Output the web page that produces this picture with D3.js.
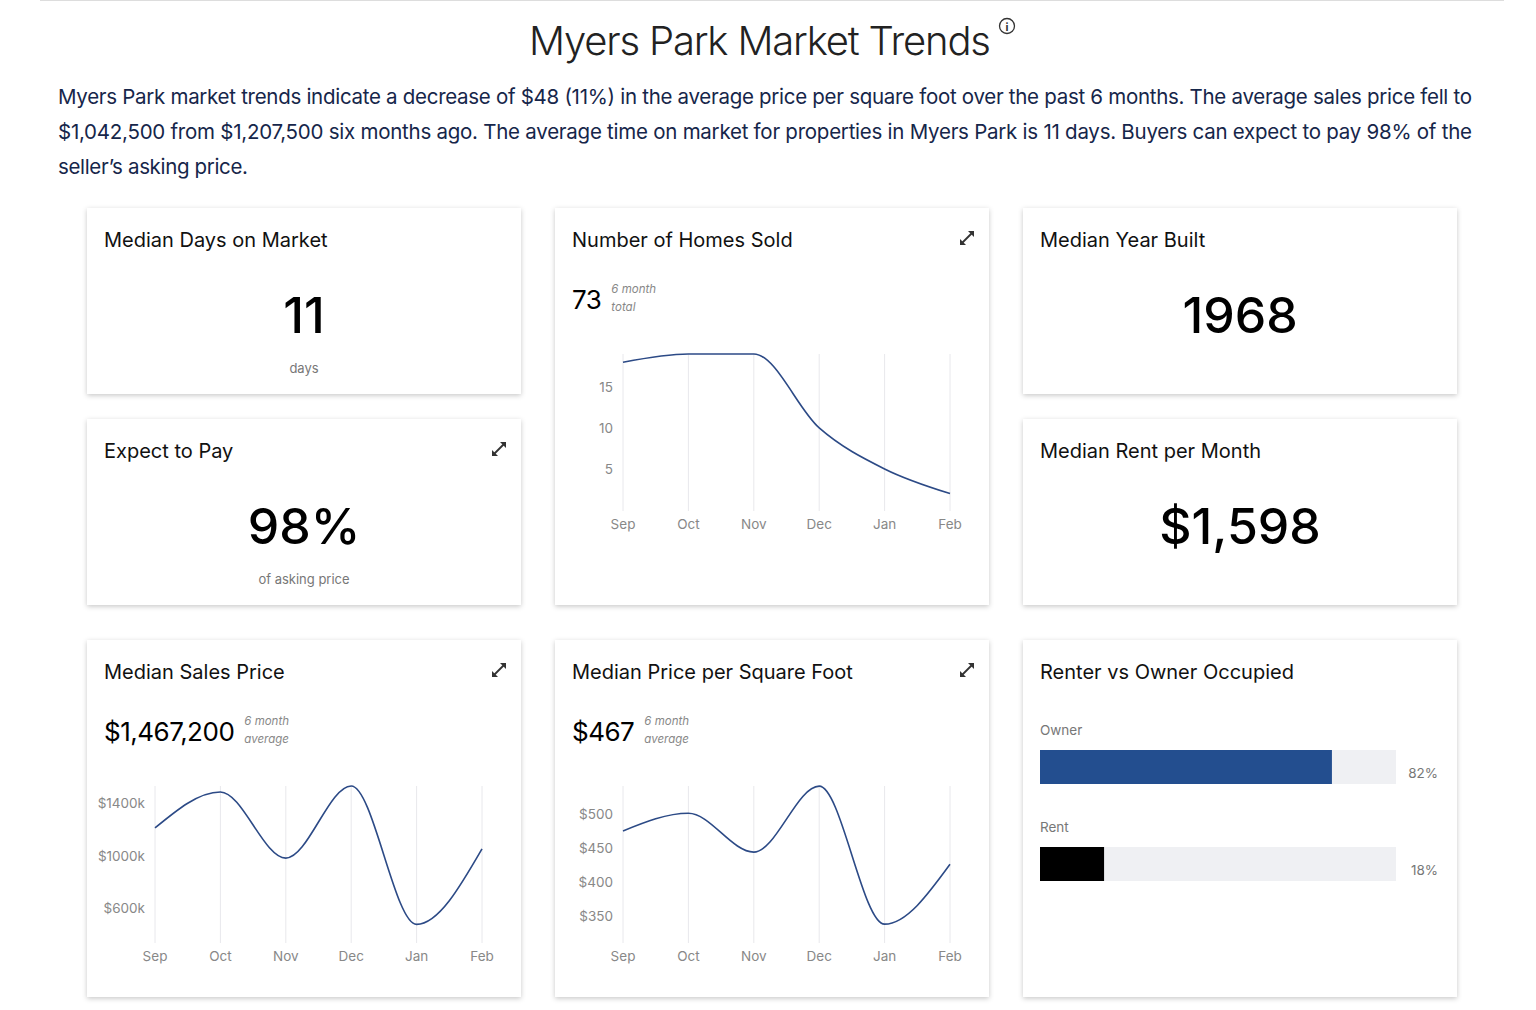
<!DOCTYPE html>
<html><head><meta charset="utf-8">
<script src="https://cdn.jsdelivr.net/npm/d3@7"></script>
<style>
body{margin:0;background:#fff;font-family:Inter,"Open Sans",sans-serif;}
</style></head><body>
<svg id="chart" width="1536" height="1010"></svg>
<script>
const months = ["Sep","Oct","Nov","Dec","Jan","Feb"];
const homesSold = [18,19,19,10,5,2];
const homesTicks = [5,10,15];
const salesPrice = [1210,1484,980,1530,475,1050];
const salesTicks = [600,1000,1400];
const priceSqft = [475,501,444,541,338,426];
const sqftTicks = [350,400,450,500];
const occupancy = [{label:"Owner",value:82,color:"#234e8f"},{label:"Rent",value:18,color:"#000"}];
const intro = [
  "Myers Park market trends indicate a decrease of $48 (11%) in the average price per square foot over the past 6 months. The average sales price fell to",
  "$1,042,500 from $1,207,500 six months ago. The average time on market for properties in Myers Park is 11 days. Buyers can expect to pay 98% of the",
  "seller’s asking price."
];

const svg = d3.select("#chart");
const f = svg.append("defs").append("filter").attr("id","sh").attr("x","-5%").attr("y","-5%").attr("width","110%").attr("height","115%");
f.append("feDropShadow").attr("dx",0).attr("dy",1.5).attr("stdDeviation",2.5).attr("flood-color","#000").attr("flood-opacity",0.22);

svg.append("line").attr("x1",40).attr("x2",1504).attr("y1",0.5).attr("y2",0.5).attr("stroke","#ddd");
svg.append("text").attr("x",760).attr("y",55).attr("text-anchor","middle")
  .attr("font-size",40).attr("font-weight",300).attr("fill","#222").attr("textLength",462).text("Myers Park Market Trends");
svg.append("circle").attr("cx",1007).attr("cy",26).attr("r",7.5).attr("fill","none").attr("stroke","#333").attr("stroke-width",1.3);
svg.append("text").attr("x",1007).attr("y",30.5).attr("text-anchor","middle").attr("font-size",11).attr("font-weight",700).attr("fill","#333").text("i");
intro.forEach((t,i)=>svg.append("text").attr("x",58).attr("y",104+i*35).attr("font-size",20.5)
  .attr("fill","#16264a").attr("textLength", i<2?1414:190).text(t));

function card(x,y,w,h,title,expand){
  const g = svg.append("g").attr("transform",`translate(${x},${y})`);
  g.append("rect").attr("width",w).attr("height",h).attr("fill","#fff").attr("filter","url(#sh)");
  g.append("text").attr("x",17).attr("y",39).attr("font-size",20).attr("fill","#111").text(title);
  if(expand){
    const e = g.append("g").attr("transform",`translate(${w-22},${30})`).attr("stroke","#333").attr("stroke-width",1.8).attr("fill","#333");
    e.append("line").attr("x1",-5).attr("y1",5).attr("x2",5).attr("y2",-5);
    e.append("path").attr("d","M1,-7L7,-7L7,-1Z").attr("stroke","none");
    e.append("path").attr("d","M-7,1L-7,7L-1,7Z").attr("stroke","none");
  }
  return g;
}
function bigStat(g,w,val,sub){
  g.append("text").attr("x",w/2).attr("y",125).attr("text-anchor","middle").attr("font-size",50).attr("font-weight",500).attr("fill","#000").text(val);
  if(sub) g.append("text").attr("x",w/2).attr("y",165).attr("text-anchor","middle").attr("font-size",13).attr("fill","#777").text(sub);
}
const W=434;
bigStat(card(87,208,W,186,"Median Days on Market"),W,"11","days");
bigStat(card(87,419,W,186,"Expect to Pay",true),W,"98%","of asking price");
bigStat(card(1023,208,W,186,"Median Year Built"),W,"1968");
bigStat(card(1023,419,W,186,"Median Rent per Month"),W,"$1,598");

// dom/rng: two values and their pixel rows
function lineChart(g,stat,subs,vals,dom,rng,ticks,fmt){
  const t = g.append("text").attr("x",17).attr("y",101).attr("font-size",26).attr("fill","#000").attr("letter-spacing",-0.5).text(stat);
  const tw = t.node().getComputedTextLength();
  subs.forEach((s,i)=>g.append("text").attr("x",17+tw+10).attr("y",85+i*18).attr("font-size",11.5).attr("font-style","italic").attr("fill","#888").text(s));
  const x = d3.scalePoint().domain(months).range([68,395]);
  const y = d3.scaleLinear().domain(dom).range(rng);
  g.selectAll(".gl").data(months).join("line").attr("x1",d=>x(d)).attr("x2",d=>x(d))
    .attr("y1",146).attr("y2",303).attr("stroke","#e8e8ec");
  g.selectAll(".mx").data(months).join("text").attr("x",d=>x(d)).attr("y",321).attr("text-anchor","middle")
    .attr("font-size",13.5).attr("fill","#888").text(d=>d);
  g.selectAll(".ty").data(ticks).join("text").attr("x",58).attr("y",d=>y(d)+5).attr("text-anchor","end")
    .attr("font-size",13.5).attr("fill","#888").text(fmt);
  g.append("path").datum(vals).attr("fill","none").attr("stroke","#2c4a86").attr("stroke-width",1.6)
    .attr("d",d3.line().x((d,i)=>x(months[i])).y(d=>y(d)).curve(d3.curveMonotoneX));
}
lineChart(card(555,208,W,397,"Number of Homes Sold",true),"73",["6 month","total"],homesSold,[0,19],[302,146],homesTicks,d=>d);
lineChart(card(87,640,W,357,"Median Sales Price",true),"$1,467,200",["6 month","average"],salesPrice,[600,1400],[268,163],salesTicks,d=>"$"+d+"k");
lineChart(card(555,640,W,357,"Median Price per Square Foot",true),"$467",["6 month","average"],priceSqft,[350,500],[276,174],sqftTicks,d=>"$"+d);

const c4 = card(1023,640,W,357,"Renter vs Owner Occupied");
const bx = d3.scaleLinear().domain([0,100]).range([0,356]);
occupancy.forEach((d,i)=>{
  const yy = 110+i*97;
  c4.append("text").attr("x",17).attr("y",yy-15).attr("font-size",13.5).attr("fill","#777").text(d.label);
  c4.append("rect").attr("x",17).attr("y",yy).attr("width",bx(100)).attr("height",34).attr("fill","#eff0f3");
  c4.append("rect").attr("x",17).attr("y",yy).attr("width",bx(d.value)).attr("height",34).attr("fill",d.color);
  c4.append("text").attr("x",415).attr("y",yy+28).attr("text-anchor","end").attr("font-size",13.5).attr("fill","#777").text(d.value+"%");
});
</script></body></html>
